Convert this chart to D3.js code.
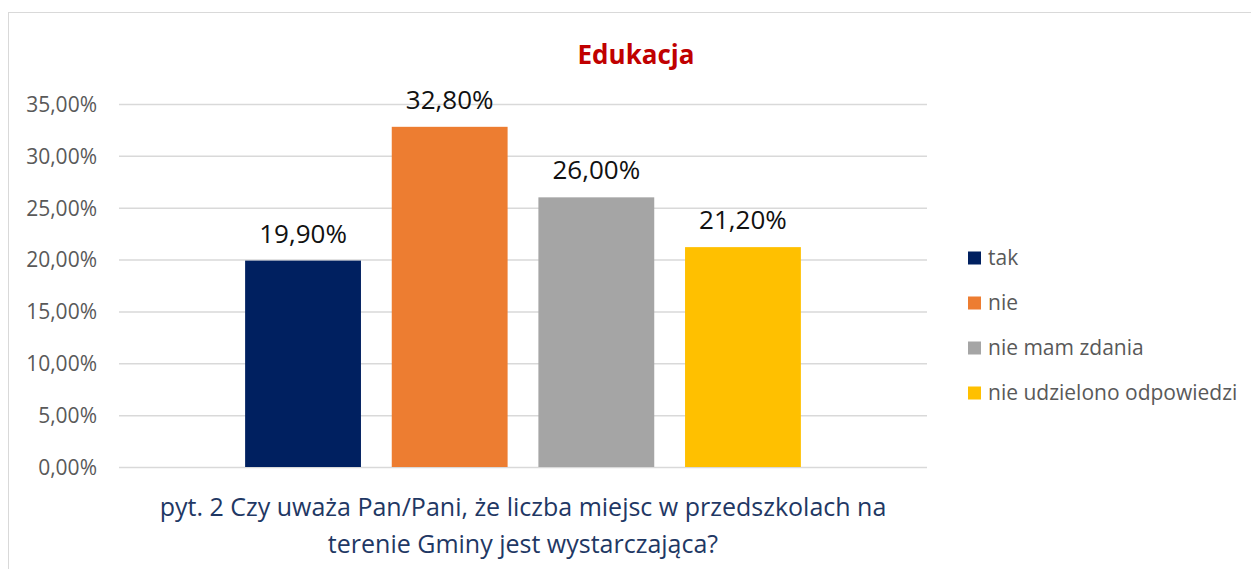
<!DOCTYPE html>
<html><head><meta charset="utf-8">
<script src="https://cdn.jsdelivr.net/npm/d3@7"></script>
<style>body{margin:0;background:#fff;font-family:"Open Sans",sans-serif;}</style>
</head><body>
<svg id="c" width="1251" height="569"></svg>
<script>
const categories = ["tak", "nie", "nie mam zdania", "nie udzielono odpowiedzi"];
const values = [19.9, 32.8, 26.0, 21.2];
const colors = ["#002060", "#ED7D31", "#A5A5A5", "#FFC000"];
const yTicks = [0, 5, 10, 15, 20, 25, 30, 35];
const title = "Edukacja";
const axisTitle = ["pyt. 2 Czy uważa Pan/Pani, że liczba miejsc w przedszkolach na", "terenie Gminy jest wystarczająca?"];

const fmt = v => v.toFixed(2).replace(".", ",") + "%";
const svg = d3.select("#c");

// chart border
svg.append("rect").attr("x", 8.5).attr("y", 12.5).attr("width", 1260).attr("height", 600)
  .attr("fill", "none").attr("stroke", "#D9D9D9").attr("stroke-width", 1);

const plot = {left: 119, right: 927, top: 104, bottom: 467};
const y = d3.scaleLinear().domain([0, 35]).range([plot.bottom, plot.top]);
const x = d3.scaleBand().domain(categories).range([plot.left, plot.right])
  .paddingInner(0.21).paddingOuter(0.86);

// gridlines + labels
const yAxis = d3.axisLeft(y).tickValues(yTicks).tickSize(-(plot.right - plot.left)).tickFormat(d => fmt(d)).tickPadding(22);
const g = svg.append("g").attr("transform", `translate(${plot.left},0)`).call(yAxis);
g.select(".domain").remove();
g.selectAll(".tick line").attr("stroke", "#D9D9D9").attr("stroke-width", 1.5);
g.selectAll(".tick text").attr("fill", "#595959").style("font-size", "21px").style("font-family", "'Open Sans'").attr("dy", "0.35em");

// bars
svg.append("g").selectAll("rect").data(categories).join("rect")
  .attr("x", d => x(d)).attr("width", x.bandwidth())
  .attr("y", (d, i) => y(values[i])).attr("height", (d, i) => y(0) - y(values[i]))
  .attr("fill", (d, i) => colors[i]);

// data labels
svg.append("g").selectAll("text").data(categories).join("text")
  .attr("x", d => x(d) + x.bandwidth() / 2).attr("y", (d, i) => y(values[i]) - 18)
  .attr("text-anchor", "middle").attr("fill", "#111").style("font-size", "26px")
  .text((d, i) => fmt(values[i]));

// title
svg.append("text").attr("x", 636).attr("y", 64).attr("text-anchor", "middle")
  .attr("fill", "#C00000").style("font-size", "26px").style("font-weight", "bold").text(title);

// axis title
svg.append("g").selectAll("text").data(axisTitle).join("text")
  .attr("x", (plot.left + plot.right) / 2).attr("y", (d, i) => 516 + i * 37)
  .attr("text-anchor", "middle").attr("fill", "#1F3864").style("font-size", "25px").text(d => d);

// legend
const leg = svg.append("g").selectAll("g").data(categories).join("g")
  .attr("transform", (d, i) => `translate(968,${258 + i * 45})`);
leg.append("rect").attr("x", 0).attr("y", -6.5).attr("width", 13).attr("height", 13).attr("fill", (d, i) => colors[i]);
leg.append("text").attr("x", 20).attr("y", 0).attr("dy", "0.35em").attr("fill", "#595959")
  .style("font-size", "21px").text(d => d);
</script>
</body></html>
